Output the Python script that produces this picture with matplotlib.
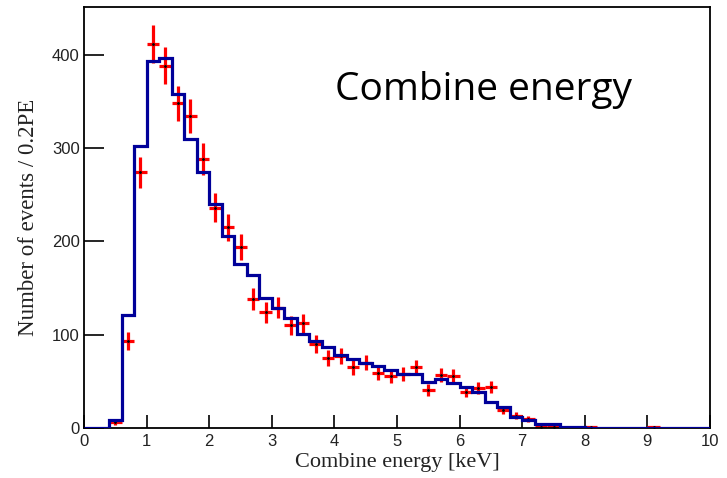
import matplotlib
matplotlib.use("Agg")
import matplotlib.pyplot as plt
import numpy as np

# bin edges: 0.2 keV bins from 0 to 10 keV
bin_edges = np.round(np.arange(0, 10.01, 0.2), 2)

# simulated spectrum (blue histogram), one value per bin
sim_counts = [0, 0, 9, 121, 302, 393, 396, 358, 310, 274,
              240, 206, 176, 164, 139, 129, 118, 101, 93, 87,
              78, 74, 70, 66, 62, 58, 58, 49, 52, 48,
              44, 39, 28, 23, 12, 9, 4, 4, 1.5, 1.5,
              0, 0, 0, 0, 0, 0, 0, 0, 0, 0]

# measured data (red crosses) at bin centres
data_x = [0.5, 0.7, 0.9, 1.1, 1.3, 1.5, 1.7, 1.9, 2.1, 2.3,
          2.5, 2.7, 2.9, 3.1, 3.3, 3.5, 3.7, 3.9, 4.1, 4.3,
          4.5, 4.7, 4.9, 5.1, 5.3, 5.5, 5.7, 5.9, 6.1, 6.3,
          6.5, 6.7, 6.9, 7.1, 7.3, 7.5, 8.1, 9.1]
data_y = [6, 93, 274, 411, 388, 348, 334, 288, 236, 215,
          194, 138, 124, 129, 110, 112, 90, 75, 77, 65,
          70, 59, 56, 58, 65, 41, 57, 56, 39, 43,
          44, 19, 13, 10, 1, 1, 1, 1]

x_ticks = list(range(0, 11))
y_ticks = [0, 100, 200, 300, 400]

fig = plt.figure(figsize=(7.27, 4.78), dpi=100)
ax = fig.add_axes([84 / 727, 50 / 478, 626 / 727, 421 / 478])

# data with poisson errors, bin-width horizontal bars
data_y = np.array(data_y, dtype=float)
ax.errorbar(data_x, data_y, xerr=0.1, yerr=np.sqrt(data_y), fmt='.',
            color='black', markersize=2, ecolor='#ff0000', elinewidth=2.3,
            capsize=0, zorder=2)

ax.stairs(sim_counts, bin_edges, color='#000099', linewidth=2.3, zorder=3)

ax.set_xlim(0, 10)
ax.set_ylim(0, 451)
ax.set_xticks(x_ticks)
ax.set_yticks(y_ticks)
ax.tick_params(axis='both', direction='in', labelsize=12, width=1.2,
               colors='black', labelcolor='#222222')
ax.tick_params(axis='x', length=9.5, pad=4)
ax.tick_params(axis='y', length=14.5, pad=3)
for lab in ax.get_xticklabels() + ax.get_yticklabels():
    lab.set_family('Liberation Sans')
for sp in ax.spines.values():
    sp.set_linewidth(1.3)

ax.set_xlabel('Combine energy [keV]', family='Liberation Serif', fontsize=16,
              color='#222222', labelpad=3)
ax.set_ylabel('Number of events / 0.2PE', family='Liberation Serif', fontsize=16.5,
              color='#222222', labelpad=9)

ax.text(0.401, 0.779, 'Combine energy', transform=ax.transAxes, family='Open Sans',
        fontsize=28, ha='left', va='baseline', color='black')

fig.savefig('out.png', dpi=100)
